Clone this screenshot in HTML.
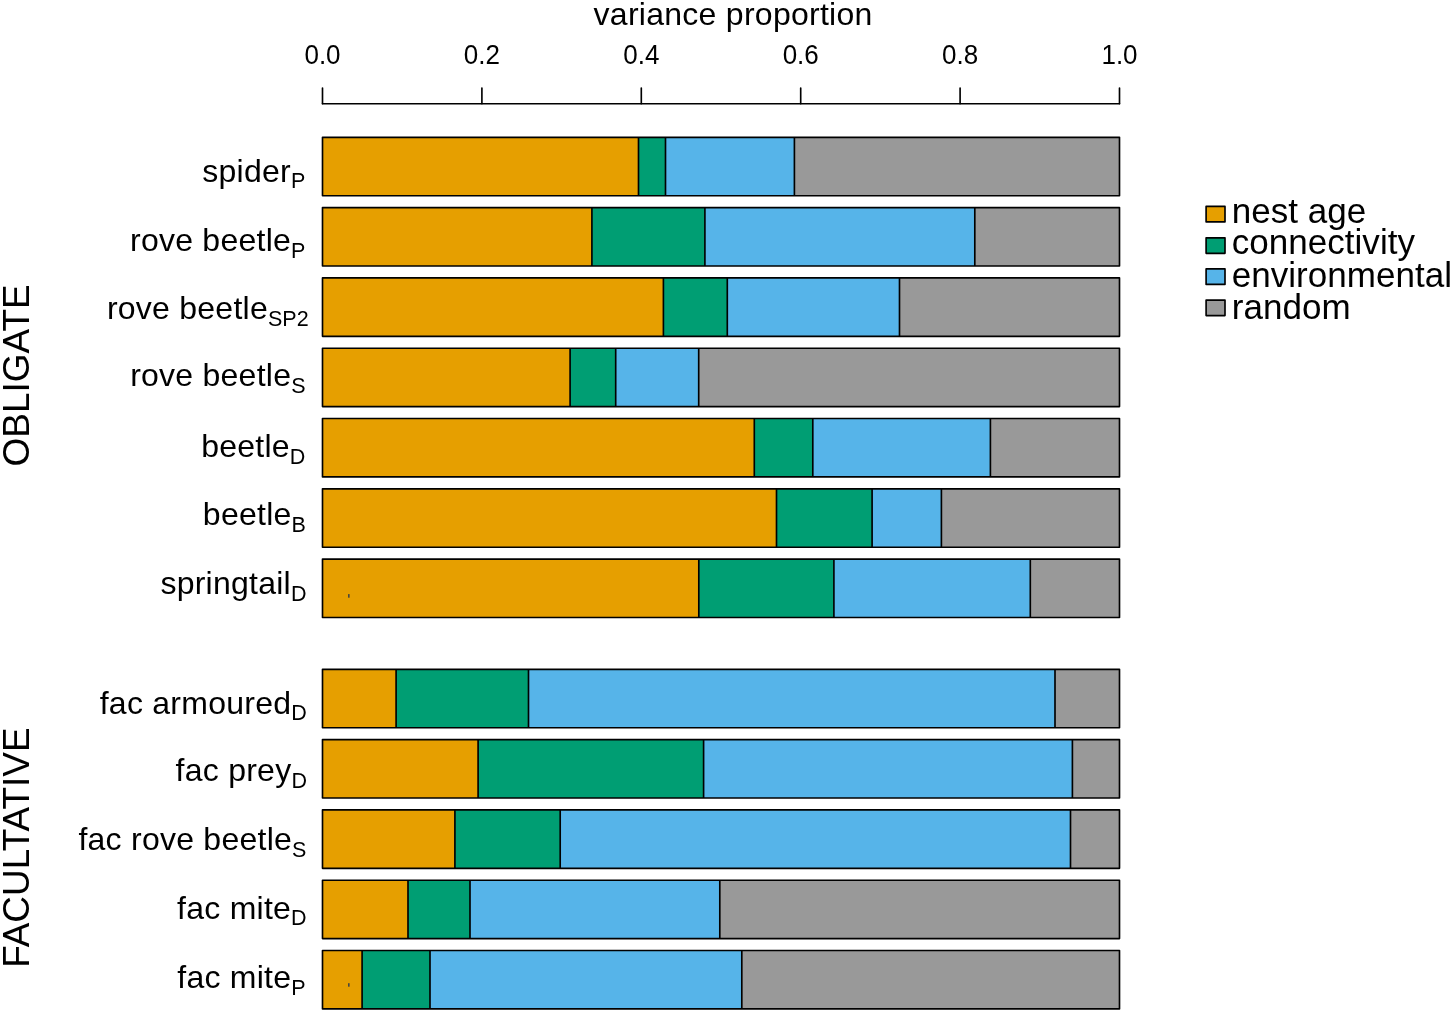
<!DOCTYPE html>
<html><head><meta charset="utf-8"><title>variance proportion</title>
<style>
html,body{margin:0;padding:0;background:#fff;}
body{width:1450px;height:1012px;overflow:hidden;}
svg{display:block;will-change:transform;font-family:"Liberation Sans",sans-serif;fill:#000;}
.ln{stroke:#000;stroke-width:1.65;stroke-linecap:round;fill:none;}
.bx{stroke:#000;stroke-width:1.65;stroke-linejoin:round;}
.sep{stroke:#000;stroke-width:1.65;stroke-linecap:butt;fill:none;}
text{fill:#000;}
</style></head><body>
<svg width="1450" height="1012" viewBox="0 0 1450 1012">
<rect x="0" y="0" width="1450" height="1012" fill="#fff"/>
<text x="733.1" y="24.8" font-size="32" letter-spacing="0.27" text-anchor="middle">variance proportion</text>
<text transform="translate(322.5 63.7) scale(1 1.062)" x="0" y="0" font-size="26" letter-spacing="0.0" text-anchor="middle">0.0</text>
<line x1="322.5" y1="88.1" x2="322.5" y2="103.7" class="ln"/>
<text transform="translate(481.9 63.7) scale(1 1.062)" x="0" y="0" font-size="26" letter-spacing="0.0" text-anchor="middle">0.2</text>
<line x1="481.9" y1="88.1" x2="481.9" y2="103.7" class="ln"/>
<text transform="translate(641.3 63.7) scale(1 1.062)" x="0" y="0" font-size="26" letter-spacing="0.0" text-anchor="middle">0.4</text>
<line x1="641.3" y1="88.1" x2="641.3" y2="103.7" class="ln"/>
<text transform="translate(800.7 63.7) scale(1 1.062)" x="0" y="0" font-size="26" letter-spacing="0.0" text-anchor="middle">0.6</text>
<line x1="800.7" y1="88.1" x2="800.7" y2="103.7" class="ln"/>
<text transform="translate(960.1 63.7) scale(1 1.062)" x="0" y="0" font-size="26" letter-spacing="0.0" text-anchor="middle">0.8</text>
<line x1="960.1" y1="88.1" x2="960.1" y2="103.7" class="ln"/>
<text transform="translate(1119.5 63.7) scale(1 1.062)" x="0" y="0" font-size="26" letter-spacing="0.0" text-anchor="middle">1.0</text>
<line x1="1119.5" y1="88.1" x2="1119.5" y2="103.7" class="ln"/>
<line x1="322.5" y1="103.7" x2="1119.5" y2="103.7" class="ln"/>
<rect x="322.5" y="137.3" width="316" height="58.4" fill="#E69F00"/>
<rect x="638.5" y="137.3" width="27" height="58.4" fill="#009E73"/>
<rect x="665.5" y="137.3" width="128.9" height="58.4" fill="#56B4E9"/>
<rect x="794.4" y="137.3" width="325.1" height="58.4" fill="#999999"/>
<path d="M638.5 137.3V195.7M665.5 137.3V195.7M794.4 137.3V195.7" class="sep"/>
<rect x="322.5" y="137.3" width="797" height="58.4" fill="none" class="bx"/>
<text x="305.25" y="181.7" font-size="32" letter-spacing="0.25" text-anchor="end">spider<tspan font-size="21.5" letter-spacing="0" dy="6.7">P</tspan></text>
<rect x="322.5" y="207.6" width="269.4" height="58.4" fill="#E69F00"/>
<rect x="591.9" y="207.6" width="113" height="58.4" fill="#009E73"/>
<rect x="704.9" y="207.6" width="269.9" height="58.4" fill="#56B4E9"/>
<rect x="974.8" y="207.6" width="144.7" height="58.4" fill="#999999"/>
<path d="M591.9 207.6V266M704.9 207.6V266M974.8 207.6V266" class="sep"/>
<rect x="322.5" y="207.6" width="797" height="58.4" fill="none" class="bx"/>
<text x="305.4" y="251.2" font-size="32" letter-spacing="0.25" text-anchor="end">rove beetle<tspan font-size="21.5" letter-spacing="0" dy="6.7">P</tspan></text>
<rect x="322.5" y="277.9" width="340.9" height="58.4" fill="#E69F00"/>
<rect x="663.4" y="277.9" width="63.9" height="58.4" fill="#009E73"/>
<rect x="727.3" y="277.9" width="172.2" height="58.4" fill="#56B4E9"/>
<rect x="899.5" y="277.9" width="220" height="58.4" fill="#999999"/>
<path d="M663.4 277.9V336.3M727.3 277.9V336.3M899.5 277.9V336.3" class="sep"/>
<rect x="322.5" y="277.9" width="797" height="58.4" fill="none" class="bx"/>
<text x="308.6" y="319.3" font-size="32" letter-spacing="0.25" text-anchor="end">rove beetle<tspan font-size="21.5" letter-spacing="0" dy="6.7">SP2</tspan></text>
<rect x="322.5" y="348.2" width="247.6" height="58.4" fill="#E69F00"/>
<rect x="570.1" y="348.2" width="45.6" height="58.4" fill="#009E73"/>
<rect x="615.7" y="348.2" width="83" height="58.4" fill="#56B4E9"/>
<rect x="698.7" y="348.2" width="420.8" height="58.4" fill="#999999"/>
<path d="M570.1 348.2V406.6M615.7 348.2V406.6M698.7 348.2V406.6" class="sep"/>
<rect x="322.5" y="348.2" width="797" height="58.4" fill="none" class="bx"/>
<text x="305.55" y="385.9" font-size="32" letter-spacing="0.25" text-anchor="end">rove beetle<tspan font-size="21.5" letter-spacing="0" dy="6.7">S</tspan></text>
<rect x="322.5" y="418.5" width="431.8" height="58.4" fill="#E69F00"/>
<rect x="754.3" y="418.5" width="58.5" height="58.4" fill="#009E73"/>
<rect x="812.8" y="418.5" width="177.6" height="58.4" fill="#56B4E9"/>
<rect x="990.4" y="418.5" width="129.1" height="58.4" fill="#999999"/>
<path d="M754.3 418.5V476.9M812.8 418.5V476.9M990.4 418.5V476.9" class="sep"/>
<rect x="322.5" y="418.5" width="797" height="58.4" fill="none" class="bx"/>
<text x="305.35" y="456.9" font-size="32" letter-spacing="0.25" text-anchor="end">beetle<tspan font-size="21.5" letter-spacing="0" dy="6.7">D</tspan></text>
<rect x="322.5" y="488.8" width="454" height="58.4" fill="#E69F00"/>
<rect x="776.5" y="488.8" width="95.6" height="58.4" fill="#009E73"/>
<rect x="872.1" y="488.8" width="69.3" height="58.4" fill="#56B4E9"/>
<rect x="941.4" y="488.8" width="178.1" height="58.4" fill="#999999"/>
<path d="M776.5 488.8V547.2M872.1 488.8V547.2M941.4 488.8V547.2" class="sep"/>
<rect x="322.5" y="488.8" width="797" height="58.4" fill="none" class="bx"/>
<text x="305.9" y="524.8" font-size="32" letter-spacing="0.25" text-anchor="end">beetle<tspan font-size="21.5" letter-spacing="0" dy="6.7">B</tspan></text>
<rect x="322.5" y="559.1" width="376.3" height="58.4" fill="#E69F00"/>
<rect x="698.8" y="559.1" width="135.1" height="58.4" fill="#009E73"/>
<rect x="833.9" y="559.1" width="196.4" height="58.4" fill="#56B4E9"/>
<rect x="1030.3" y="559.1" width="89.2" height="58.4" fill="#999999"/>
<path d="M698.8 559.1V617.5M833.9 559.1V617.5M1030.3 559.1V617.5" class="sep"/>
<rect x="322.5" y="559.1" width="797" height="58.4" fill="none" class="bx"/>
<text x="306.5" y="594" font-size="32" letter-spacing="0.25" text-anchor="end">springtail<tspan font-size="21.5" letter-spacing="0" dy="6.7">D</tspan></text>
<rect x="322.5" y="669.3" width="73.6" height="58.4" fill="#E69F00"/>
<rect x="396.1" y="669.3" width="132.4" height="58.4" fill="#009E73"/>
<rect x="528.5" y="669.3" width="526.5" height="58.4" fill="#56B4E9"/>
<rect x="1055" y="669.3" width="64.5" height="58.4" fill="#999999"/>
<path d="M396.1 669.3V727.7M528.5 669.3V727.7M1055 669.3V727.7" class="sep"/>
<rect x="322.5" y="669.3" width="797" height="58.4" fill="none" class="bx"/>
<text x="306.75" y="713.6" font-size="32" letter-spacing="0.25" text-anchor="end">fac armoured<tspan font-size="21.5" letter-spacing="0" dy="6.7">D</tspan></text>
<rect x="322.5" y="739.6" width="155.6" height="58.4" fill="#E69F00"/>
<rect x="478.1" y="739.6" width="225.5" height="58.4" fill="#009E73"/>
<rect x="703.6" y="739.6" width="368.8" height="58.4" fill="#56B4E9"/>
<rect x="1072.4" y="739.6" width="47.1" height="58.4" fill="#999999"/>
<path d="M478.1 739.6V798M703.6 739.6V798M1072.4 739.6V798" class="sep"/>
<rect x="322.5" y="739.6" width="797" height="58.4" fill="none" class="bx"/>
<text x="306.95" y="781.4" font-size="32" letter-spacing="0.25" text-anchor="end">fac prey<tspan font-size="21.5" letter-spacing="0" dy="6.7">D</tspan></text>
<rect x="322.5" y="809.9" width="132.4" height="58.4" fill="#E69F00"/>
<rect x="454.9" y="809.9" width="105.3" height="58.4" fill="#009E73"/>
<rect x="560.2" y="809.9" width="510.3" height="58.4" fill="#56B4E9"/>
<rect x="1070.5" y="809.9" width="49" height="58.4" fill="#999999"/>
<path d="M454.9 809.9V868.3M560.2 809.9V868.3M1070.5 809.9V868.3" class="sep"/>
<rect x="322.5" y="809.9" width="797" height="58.4" fill="none" class="bx"/>
<text x="306.4" y="850.1" font-size="32" letter-spacing="0.25" text-anchor="end">fac rove beetle<tspan font-size="21.5" letter-spacing="0" dy="6.7">S</tspan></text>
<rect x="322.5" y="880.2" width="85.5" height="58.4" fill="#E69F00"/>
<rect x="408" y="880.2" width="62" height="58.4" fill="#009E73"/>
<rect x="470" y="880.2" width="249.8" height="58.4" fill="#56B4E9"/>
<rect x="719.8" y="880.2" width="399.7" height="58.4" fill="#999999"/>
<path d="M408 880.2V938.6M470 880.2V938.6M719.8 880.2V938.6" class="sep"/>
<rect x="322.5" y="880.2" width="797" height="58.4" fill="none" class="bx"/>
<text x="306.65" y="918.6" font-size="32" letter-spacing="0.25" text-anchor="end">fac mite<tspan font-size="21.5" letter-spacing="0" dy="6.7">D</tspan></text>
<rect x="322.5" y="950.5" width="39.6" height="58.4" fill="#E69F00"/>
<rect x="362.1" y="950.5" width="67.9" height="58.4" fill="#009E73"/>
<rect x="430" y="950.5" width="311.8" height="58.4" fill="#56B4E9"/>
<rect x="741.8" y="950.5" width="377.7" height="58.4" fill="#999999"/>
<path d="M362.1 950.5V1008.9M430 950.5V1008.9M741.8 950.5V1008.9" class="sep"/>
<rect x="322.5" y="950.5" width="797" height="58.4" fill="none" class="bx"/>
<text x="305.65" y="988.1" font-size="32" letter-spacing="0.25" text-anchor="end">fac mite<tspan font-size="21.5" letter-spacing="0" dy="6.7">P</tspan></text>
<rect x="348.15" y="594.1" width="1.4" height="3.6" fill="#2f3a48"/>
<rect x="348.15" y="983.2" width="1.4" height="3.5" fill="#2f3a48"/>
<rect x="1206.1" y="206.4" width="18.9" height="15.5" fill="#E69F00" class="bx"/>
<text x="1231.7" y="222.7" font-size="35" letter-spacing="0.04">nest age</text>
<rect x="1206.1" y="237.8" width="18.9" height="15.5" fill="#009E73" class="bx"/>
<text x="1231.7" y="253.9" font-size="35" letter-spacing="0.04">connectivity</text>
<rect x="1206.1" y="268.9" width="18.9" height="15.5" fill="#56B4E9" class="bx"/>
<text x="1231.7" y="286.6" font-size="35" letter-spacing="0.04">environmental</text>
<rect x="1206.1" y="300.1" width="18.9" height="15.5" fill="#999999" class="bx"/>
<text x="1231.7" y="318.9" font-size="35" letter-spacing="0.04">random</text>
<text transform="translate(28.6 375.4) rotate(-90)" x="0" y="0" font-size="37" letter-spacing="0.0" text-anchor="middle">OBLIGATE</text>
<text transform="translate(28.6 847.6) rotate(-90)" x="0" y="0" font-size="37" letter-spacing="0.0" text-anchor="middle">FACULTATIVE</text>
</svg>
</body></html>
